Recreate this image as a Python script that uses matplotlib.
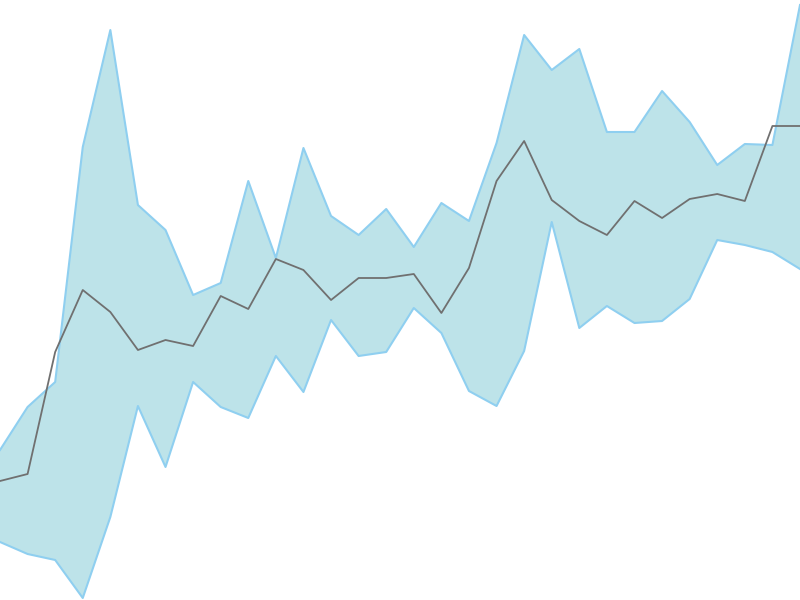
import matplotlib
matplotlib.use("Agg")
import matplotlib.pyplot as plt

# values (pixel height from bottom, 600 px tall)
x = list(range(30))
upper = [150, 193, 218, 453, 570, 395, 370, 305, 317, 419,
         342, 452, 384, 365, 391, 353, 397, 379, 457, 565,
         530, 551, 468, 468, 509, 478, 435, 456, 455, 595]
lower = [58, 46, 40, 2, 83, 194, 133, 218, 193, 182,
         244, 208, 280, 244, 248, 292, 267, 209, 194, 249,
         378, 272, 294, 277, 279, 301, 360, 355, 348, 331]
middle = [119, 126, 248, 310, 288, 250, 260, 254, 304, 291,
          341, 330, 300, 322, 322, 326, 287, 332, 419, 459,
          400, 379, 365, 399, 382, 401, 406, 399, 474, 474]

fig = plt.figure(figsize=(8, 6), dpi=100)
ax = fig.add_axes([0, 0, 1, 1])
ax.fill_between(x, lower, upper, color="#bde3e9", linewidth=0)
ax.plot(x, upper, color="#8fcff0", linewidth=1.5)
ax.plot(x, lower, color="#8fcff0", linewidth=1.5)
ax.plot(x, middle, color="#707070", linewidth=1.3)
ax.set_xlim(0, 29)
ax.set_ylim(0, 600)
ax.axis("off")
fig.savefig("out.png", dpi=100)
